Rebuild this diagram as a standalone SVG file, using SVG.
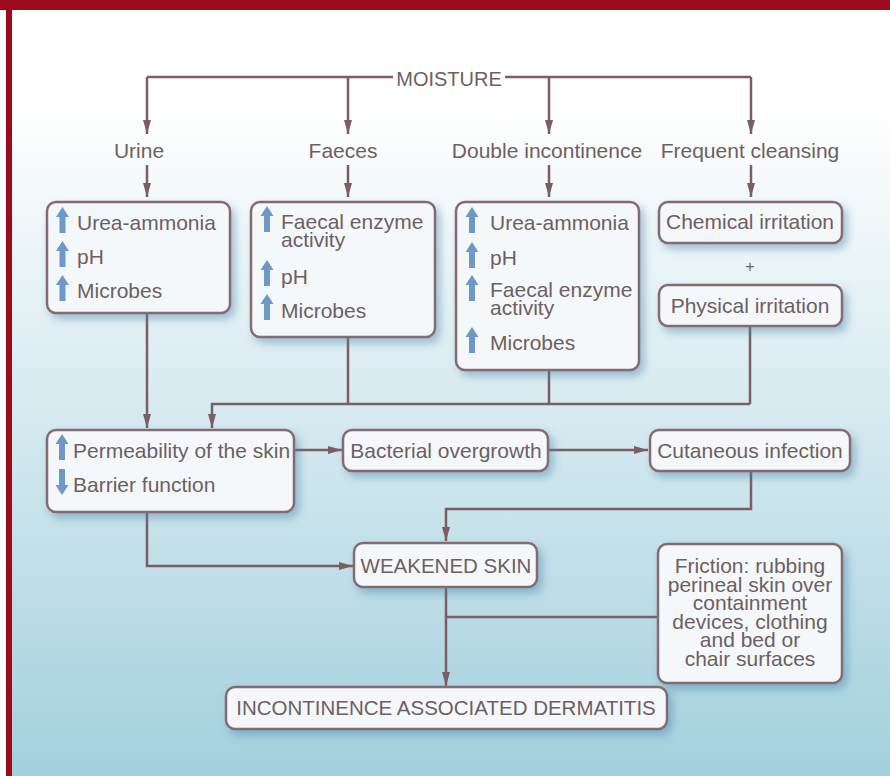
<svg xmlns="http://www.w3.org/2000/svg" width="890" height="776" viewBox="0 0 890 776">
<defs>
<linearGradient id="bg" x1="0" y1="0" x2="0" y2="776" gradientUnits="userSpaceOnUse">
<stop offset="0" stop-color="#ffffff"/>
<stop offset="0.14" stop-color="#ffffff"/>
<stop offset="0.55" stop-color="#d4e9ef"/>
<stop offset="1" stop-color="#a3d0dd"/>
</linearGradient>
<filter id="sh" x="-20%" y="-30%" width="140%" height="170%">
<feDropShadow dx="4" dy="5" stdDeviation="4" flood-color="#3f7ea6" flood-opacity="0.45"/>
</filter>
<marker id="ah" viewBox="0 0 14 8" refX="14" refY="4" markerWidth="14" markerHeight="8" markerUnits="userSpaceOnUse" orient="auto">
<path d="M0,0 L14,4 L0,8 Z" fill="#7d5d64"/>
</marker>
<path id="up" d="M0,-13 L6.5,-3 L3,-3 L3,13 L-3,13 L-3,-3 L-6.5,-3 Z" fill="#6e98c8"/>
<path id="down" d="M0,13 L6.5,3 L3,3 L3,-13 L-3,-13 L-3,3 L-6.5,3 Z" fill="#6e98c8"/>
</defs>
<style>
.box{fill:#f4f8fa;stroke:#866b71;stroke-width:2.5;filter:url(#sh)}
.t{font-family:"Liberation Sans",Arial,Helvetica,sans-serif;font-size:21px;fill:#6e5f62}
.c{text-anchor:middle}
.cap{font-size:20px}
.ln{fill:none;stroke:#7d5d64;stroke-width:2.5}
.arr{marker-end:url(#ah)}
</style>
<rect x="0" y="0" width="890" height="776" fill="#ffffff"/>
<rect x="12" y="10" width="878" height="766" fill="url(#bg)"/>
<rect x="0" y="0" width="890" height="10" fill="#9b0b1b"/>
<rect x="6" y="0" width="6" height="776" fill="#9b0b1b"/>

<g id="connectors">
<path class="ln" d="M147,77 H393 M505,77 H751"/>
<path class="ln arr" d="M147,77 V134"/>
<path class="ln arr" d="M348,77 V134"/>
<path class="ln arr" d="M549,77 V134"/>
<path class="ln arr" d="M751,77 V134"/>
<path class="ln arr" d="M147,165 V197"/>
<path class="ln arr" d="M348,165 V197"/>
<path class="ln arr" d="M549,165 V197"/>
<path class="ln arr" d="M751,165 V197"/>
<path class="ln arr" d="M147,313 V428"/>
<path class="ln" d="M348,337 V404 M549,370 V404 M750,326 V404"/>
<path class="ln arr" d="M750,404 H212 V428"/>
<path class="ln arr" d="M294,450 H342"/>
<path class="ln arr" d="M548,450 H648"/>
<path class="ln arr" d="M751,471 V509 H446 V541"/>
<path class="ln arr" d="M147,512 V566 H353"/>
<path class="ln arr" d="M446,587 V686"/>
<path class="ln" d="M658,617 H446"/>
</g>

<g id="moisture"><text class="t c cap" x="449" y="86">MOISTURE</text></g>
<g id="urine"><text class="t c" x="139" y="158">Urine</text></g>
<g id="faeces"><text class="t c" x="343" y="158">Faeces</text></g>
<g id="double"><text class="t c" x="547" y="158">Double incontinence</text></g>
<g id="cleansing"><text class="t c" x="750" y="158">Frequent cleansing</text></g>

<g id="urine-effects">
<rect class="box" x="47" y="202" width="183" height="111" rx="9"/>
<use href="#up" x="62.5" y="220"/>
<use href="#up" x="62.5" y="254"/>
<use href="#up" x="62.5" y="288"/>
<text class="t" x="77" y="230">Urea-ammonia</text>
<text class="t" x="77" y="264">pH</text>
<text class="t" x="77" y="298">Microbes</text>
</g>

<g id="faeces-effects">
<rect class="box" x="251" y="202" width="184" height="135" rx="9"/>
<use href="#up" x="267" y="219"/>
<use href="#up" x="267" y="273"/>
<use href="#up" x="267" y="307"/>
<text class="t" x="281" y="229">Faecal enzyme</text>
<text class="t" x="281" y="247">activity</text>
<text class="t" x="281" y="284">pH</text>
<text class="t" x="281" y="318">Microbes</text>
</g>

<g id="double-effects">
<rect class="box" x="456" y="202" width="183" height="168" rx="9"/>
<use href="#up" x="472" y="220"/>
<use href="#up" x="472" y="255"/>
<use href="#up" x="472" y="288"/>
<use href="#up" x="472" y="340"/>
<text class="t" x="490" y="230">Urea-ammonia</text>
<text class="t" x="490" y="265">pH</text>
<text class="t" x="490" y="297">Faecal enzyme</text>
<text class="t" x="490" y="315">activity</text>
<text class="t" x="490" y="350">Microbes</text>
</g>

<g id="chemical">
<rect class="box" x="659" y="202" width="183" height="41" rx="9"/>
<text class="t c" x="750" y="229">Chemical irritation</text>
</g>
<g id="plus"><text class="t c" x="750" y="272" style="font-size:16px">+</text></g>
<g id="physical">
<rect class="box" x="659" y="285" width="183" height="41" rx="9"/>
<text class="t c" x="750" y="313">Physical irritation</text>
</g>

<g id="permeability">
<rect class="box" x="47" y="430" width="247" height="82" rx="9"/>
<use href="#up" x="62" y="447"/>
<use href="#down" x="62" y="482"/>
<text class="t" x="73" y="458">Permeability of the skin</text>
<text class="t" x="73" y="492">Barrier function</text>
</g>

<g id="bacterial">
<rect class="box" x="343" y="430" width="205" height="41" rx="9"/>
<text class="t c" x="446" y="458">Bacterial overgrowth</text>
</g>

<g id="cutaneous">
<rect class="box" x="650" y="430" width="200" height="41" rx="9"/>
<text class="t c" x="750" y="458">Cutaneous infection</text>
</g>

<g id="weakened">
<rect class="box" x="354" y="543" width="183" height="44" rx="9"/>
<text class="t c" x="446" y="573" style="font-size:20.5px">WEAKENED SKIN</text>
</g>

<g id="friction">
<rect class="box" x="658" y="544" width="184" height="139" rx="9"/>
<text class="t c" x="750" y="573">Friction: rubbing</text>
<text class="t c" x="750" y="591.5">perineal skin over</text>
<text class="t c" x="750" y="610">containment</text>
<text class="t c" x="750" y="628.5">devices, clothing</text>
<text class="t c" x="750" y="647">and bed or</text>
<text class="t c" x="750" y="665.5">chair surfaces</text>
</g>

<g id="iad">
<rect class="box" x="226" y="687" width="441" height="42" rx="9"/>
<text class="t c" x="446" y="715" style="font-size:20.5px">INCONTINENCE ASSOCIATED DERMATITIS</text>
</g>
</svg>
